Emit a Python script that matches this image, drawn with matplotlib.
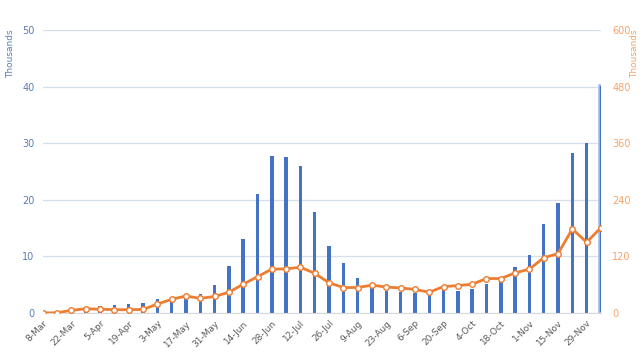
import matplotlib
matplotlib.use("Agg")
import matplotlib.pyplot as plt
import numpy as np

weeks = ["8-Mar", "15-Mar", "22-Mar", "29-Mar", "5-Apr", "12-Apr", "19-Apr", "26-Apr",
         "3-May", "10-May", "17-May", "24-May", "31-May", "7-Jun", "14-Jun", "21-Jun",
         "28-Jun", "5-Jul", "12-Jul", "19-Jul", "26-Jul", "2-Aug", "9-Aug", "16-Aug",
         "23-Aug", "30-Aug", "6-Sep", "13-Sep", "20-Sep", "27-Sep", "4-Oct", "11-Oct",
         "18-Oct", "25-Oct", "1-Nov", "8-Nov", "15-Nov", "22-Nov", "29-Nov", "6-Dec"]

bars = [0.0, 0.0, 0.3, 0.9, 1.2, 1.4, 1.6, 1.8,
        2.5, 2.7, 3.0, 3.3, 4.9, 8.3, 13.1, 21.0,
        27.8, 27.5, 26.0, 17.9, 11.9, 8.9, 6.2, 4.6,
        3.8, 3.7, 3.5, 3.2, 4.3, 3.8, 4.2, 5.1,
        5.9, 8.2, 10.2, 15.8, 19.5, 28.2, 30.0, 40.3]

line = [0, 0.5, 5.7, 9, 8, 7, 7, 7.5,
        19, 29, 36, 31, 35, 44, 61, 77,
        93, 93.5, 97, 84, 64, 54, 54, 59,
        55, 53, 50, 44, 56, 58, 61, 73,
        73, 85, 93, 117, 126, 178, 150, 181]

left_ticks = [0, 10, 20, 30, 40, 50]
right_ticks = [0, 120, 240, 360, 480, 600]

BLUE = "#4472C4"
ORANGE = "#ED7D31"

fig = plt.figure(figsize=(6.4, 3.6), dpi=100)
ax = fig.add_axes([0.067, 0.1306, 0.872, 0.7861])
x = np.arange(len(weeks))

ax.bar(x[:-1], bars[:-1], width=0.24, color=BLUE, zorder=2)
ax.bar(x[-1:], bars[-1:], width=0.3, color=BLUE, edgecolor="#A9C0E8", linewidth=1.2, zorder=2)

ax.set_ylim(0, 50)
ax.set_xlim(0, len(weeks) - 1)
ax.set_yticks(left_ticks)
ax.set_yticklabels([str(t) for t in left_ticks], color="#5B7DB9", fontsize=7)
ax.grid(axis="y", color="#D6DEEE", linewidth=0.9, zorder=0)
for s in ["top", "right", "left"]:
    ax.spines[s].set_visible(False)
ax.spines["bottom"].set_color("#D9D9D9")
ax.tick_params(axis="y", length=0, pad=6)
ax.set_xticks(x[::2])
ax.set_xticklabels(weeks[::2], rotation=45, ha="right", rotation_mode="anchor",
                   fontsize=6.5, color="#595959")
ax.tick_params(axis="x", length=0, pad=4)
ax.set_ylabel("Thousands", color="#5B7DB9", fontsize=6.5)
ax.yaxis.set_label_coords(-0.05, 0.915)

ax2 = ax.twinx()
ax2.plot(x, line, color=ORANGE, linewidth=2, marker="o", markersize=4,
         markerfacecolor="white", markeredgecolor=ORANGE, markeredgewidth=1, zorder=3)
ax2.set_ylim(0, 600)
ax2.set_yticks(right_ticks)
ax2.set_yticklabels([str(t) for t in right_ticks], color="#F4A36B", fontsize=7)
ax2.tick_params(axis="y", length=0, pad=8)
for s in ["top", "right", "left", "bottom"]:
    ax2.spines[s].set_visible(False)
ax2.set_ylabel("Thousands", color="#F4A36B", fontsize=6.5)
ax2.yaxis.set_label_coords(1.052, 0.915)

fig.savefig("out.png", dpi=100, facecolor="white")
